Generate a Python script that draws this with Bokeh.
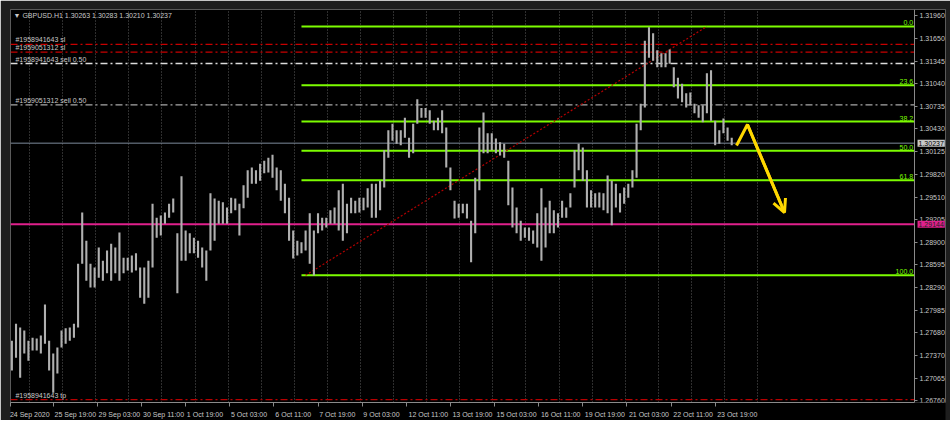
from bokeh.plotting import figure
from bokeh.models import Range1d, FixedTicker, PrintfTickFormatter, Label, Arrow, OpenHead
from bokeh.embed import file_html
from bokeh.resources import INLINE

symbol_header = "\u25bc GBPUSD.H1  1.30263 1.30283 1.30210 1.30237"

# High / low of every third H1 bar (GBPUSD)
bar_high = [1.2757, 1.2780, 1.2775, 1.2771, 1.2757, 1.2761, 1.2760, 1.2764, 1.2806, 1.2757,
            1.2740, 1.2748, 1.2771, 1.2774, 1.2775, 1.2780, 1.2861, 1.2930, 1.2892, 1.2861,
            1.2856, 1.2883, 1.2865, 1.2879, 1.2888, 1.2883, 1.2903, 1.2869, 1.2869, 1.2872,
            1.2875, 1.2856, 1.2856, 1.2865, 1.2942, 1.2923, 1.2926, 1.2930, 1.2942, 1.2949,
            1.2902, 1.2979, 1.2906, 1.2902, 1.2896, 1.2892, 1.2883, 1.2879, 1.2956, 1.2949,
            1.2946, 1.2944, 1.2937, 1.2950, 1.2949, 1.2942, 1.2967, 1.2987, 1.2991, 1.2987,
            1.2996, 1.3000, 1.3004, 1.3008, 1.2991, 1.2987, 1.2969, 1.2950, 1.2906, 1.2892,
            1.2890, 1.2906, 1.2929, 1.2906, 1.2929, 1.2923, 1.2923, 1.2933, 1.2937, 1.2960,
            1.2969, 1.2942, 1.2950, 1.2946, 1.2950, 1.2950, 1.2963, 1.2969, 1.2969, 1.2973,
            1.3014, 1.3041, 1.3050, 1.3041, 1.3041, 1.3058, 1.3031, 1.3050, 1.3083, 1.3071,
            1.3071, 1.3068, 1.3054, 1.3058, 1.3068, 1.3045, 1.2991, 1.2946, 1.2942, 1.2942,
            1.2942, 1.2919, 1.2977, 1.3045, 1.3065, 1.3037, 1.3037, 1.3030, 1.3025, 1.3023,
            1.3000, 1.2964, 1.2937, 1.2919, 1.2910, 1.2910, 1.2906, 1.2929, 1.2963, 1.2937,
            1.2946, 1.2933, 1.2929, 1.2946, 1.2937, 1.2956, 1.3014, 1.3023, 1.3018, 1.2987,
            1.2960, 1.2956, 1.2957, 1.2956, 1.2980, 1.2973, 1.2969, 1.2956, 1.2964, 1.2969,
            1.2987, 1.3050, 1.3077, 1.3162, 1.3180, 1.3172, 1.3149, 1.3145, 1.3145, 1.3150,
            1.3126, 1.3112, 1.3104, 1.3091, 1.3092, 1.3077, 1.3075, 1.3075, 1.3118, 1.3122,
            1.3054, 1.3041, 1.3057, 1.3045, 1.3031]
bar_low = [1.2717, 1.2734, 1.2707, 1.2740, 1.2730, 1.2744, 1.2744, 1.2740, 1.2753, 1.2717,
           1.2687, 1.2713, 1.2748, 1.2753, 1.2757, 1.2761, 1.2775, 1.2861, 1.2838, 1.2829,
           1.2829, 1.2842, 1.2838, 1.2848, 1.2838, 1.2848, 1.2838, 1.2848, 1.2852, 1.2849,
           1.2852, 1.2815, 1.2807, 1.2815, 1.2856, 1.2896, 1.2899, 1.2915, 1.2923, 1.2930,
           1.2821, 1.2865, 1.2865, 1.2875, 1.2875, 1.2869, 1.2856, 1.2838, 1.2879, 1.2892,
           1.2915, 1.2915, 1.2915, 1.2929, 1.2933, 1.2899, 1.2936, 1.2950, 1.2969, 1.2969,
           1.2973, 1.2983, 1.2984, 1.2977, 1.2960, 1.2946, 1.2929, 1.2892, 1.2868, 1.2872,
           1.2875, 1.2879, 1.2861, 1.2845, 1.2902, 1.2906, 1.2910, 1.2915, 1.2915, 1.2906,
           1.2892, 1.2902, 1.2929, 1.2929, 1.2930, 1.2933, 1.2937, 1.2923, 1.2923, 1.2933,
           1.2964, 1.3004, 1.3027, 1.3023, 1.3021, 1.3031, 1.3004, 1.3010, 1.3050, 1.3058,
           1.3058, 1.3050, 1.3041, 1.3041, 1.3037, 1.2991, 1.2960, 1.2922, 1.2923, 1.2929,
           1.2922, 1.2863, 1.2902, 1.2960, 1.3010, 1.3010, 1.3014, 1.3010, 1.3007, 1.3004,
           1.2940, 1.2910, 1.2902, 1.2892, 1.2896, 1.2892, 1.2888, 1.2883, 1.2865, 1.2883,
           1.2902, 1.2902, 1.2910, 1.2923, 1.2923, 1.2937, 1.2964, 1.2987, 1.2973, 1.2937,
           1.2937, 1.2937, 1.2937, 1.2933, 1.2929, 1.2913, 1.2937, 1.2930, 1.2942, 1.2950,
           1.2964, 1.2977, 1.3041, 1.3072, 1.3139, 1.3135, 1.3126, 1.3126, 1.3126, 1.3131,
           1.3099, 1.3084, 1.3079, 1.3072, 1.3075, 1.3064, 1.3058, 1.3052, 1.3064, 1.3054,
           1.3021, 1.3023, 1.3037, 1.3027, 1.3021]
BAR_STEP = 3
bar_index = [1 + BAR_STEP * i for i in range(len(bar_high))]

price_ticks = [1.31960, 1.31650, 1.31345, 1.31040, 1.30735, 1.30430, 1.30125, 1.29820, 1.29510,
               1.29205, 1.28900, 1.28595, 1.28290, 1.27985, 1.27680, 1.27370, 1.27065, 1.26760]

date_labels = ["24 Sep 2020", "25 Sep 19:00", "29 Sep 03:00", "30 Sep 11:00", "1 Oct 19:00",
               "5 Oct 03:00", "6 Oct 11:00", "7 Oct 19:00", "9 Oct 03:00", "12 Oct 11:00",
               "13 Oct 19:00", "15 Oct 03:00", "16 Oct 11:00", "19 Oct 19:00", "21 Oct 03:00",
               "22 Oct 11:00", "23 Oct 19:00"]
date_ticks = [0, 31, 63, 95, 127, 159, 191, 223, 255, 287, 319, 351, 383, 415, 447, 479, 511]

fib_levels = [0.0, 23.6, 38.2, 50.0, 61.8, 100.0]
fib_high = 1.31812
fib_low = 1.28454
fib_start_bar = 211
fib_anchor_bars = [214, 505]

order_names = ["#1958941643 sl", "#1959051312 sl", "#1958941643 sell 0.50",
               "#1959051312 sell 0.50", "#1958941643 tp"]
order_prices = [1.31569, 1.31465, 1.31312, 1.30755, 1.26777]
order_colors = ["#c80000", "#c80000", "#dcdcdc", "#a8a8a8", "#b80000"]

bid_price = 1.30237
level_price = 1.29144

arrow_bars = [526.5, 534.4, 561.3]
arrow_prices = [1.30206, 1.30489, 1.29301]

FONT = "Liberation Sans"
FS = "7px"
CHART_W = 904           # width of the price area, px
FRAME_W, FRAME_H = 935, 393
PX_PER_BAR = 1.379
axis_x = CHART_W / PX_PER_BAR
x_end = FRAME_W / PX_PER_BAR

p = figure(frame_width=FRAME_W, frame_height=FRAME_H, output_backend="svg", toolbar_location=None,
           x_range=Range1d(0, x_end), y_range=Range1d(1.26737, 1.32041), y_axis_location="right",
           min_border_left=10, min_border_top=9, min_border_right=5, min_border_bottom=14,
           background_fill_color="black", border_fill_color="#1e1e1e",
           outline_line_color="#5a5a5a", outline_line_width=1)

p.ygrid.visible = False
p.xgrid.ticker = FixedTicker(ticks=[13.8 + 24 * i for i in range(23)])
p.xgrid.grid_line_color = "#5c5c5c"
p.xgrid.grid_line_dash = "1 2"

xa = p.xaxis[0]
centers = [t + round(len(l) * 1.3) for t, l in zip(date_ticks, date_labels)]
xa.ticker = FixedTicker(ticks=centers, minor_ticks=date_ticks)
xa.major_label_overrides = {c: l for c, l in zip(centers, date_labels)}
xa.bounds = (0, axis_x)
xa.major_tick_out = 0
xa.major_tick_in = 0
xa.minor_tick_out = 4
xa.minor_tick_in = 0
xa.minor_tick_line_color = "#8a8a8a"
xa.major_label_standoff = 4
xa.axis_line_color = "#8a8a8a"
xa.major_label_text_color = "#c8c8c8"
xa.major_label_text_font = FONT
xa.major_label_text_font_size = FS

ya = p.yaxis[0]
ya.fixed_location = axis_x
ya.ticker = FixedTicker(ticks=price_ticks)
ya.formatter = PrintfTickFormatter(format="%.5f")
ya.major_tick_out = 3
ya.major_tick_in = 0
ya.minor_tick_out = 0
ya.minor_tick_in = 0
ya.major_tick_line_color = "#8a8a8a"
ya.axis_line_color = "#8a8a8a"
ya.major_label_standoff = 2
ya.major_label_text_color = "#c8c8c8"
ya.major_label_text_font = FONT
ya.major_label_text_font_size = FS

try:
    xa.background_fill_color = "black"
except Exception:
    pass

n_ord = len(order_prices)
# trade lines
p.segment(x0=[0] * n_ord, x1=[axis_x] * n_ord, y0=order_prices, y1=order_prices,
          line_color=order_colors, line_width=1.3, line_dash="7 3 2 3")
for name, pr in zip(order_names, order_prices):
    p.add_layout(Label(x=3.6, y=pr, text=name, y_offset=1, text_baseline="bottom",
                       text_color="#c8c8c8", text_font=FONT, text_font_size=FS))

# bid & level lines
p.segment(x0=[0], x1=[axis_x], y0=[bid_price], y1=[bid_price], line_color="#7d8a9c", line_width=1)
p.segment(x0=[0], x1=[axis_x], y0=[level_price], y1=[level_price], line_color="#e0208c",
          line_width=2)

# fibonacci
fib_prices = [fib_high - (fib_high - fib_low) * lv / 100.0 for lv in fib_levels]
p.segment(x0=[fib_start_bar] * len(fib_prices), x1=[axis_x] * len(fib_prices),
          y0=fib_prices, y1=fib_prices, line_color="#7cfc00", line_width=2)
for lv, pr in zip(fib_levels, fib_prices):
    p.add_layout(Label(x=axis_x - 1, y=pr, text=f"{lv:.1f}", text_align="right",
                       text_baseline="bottom", y_offset=1, text_color="#7cfc00",
                       text_font=FONT, text_font_size=FS))
p.line(x=fib_anchor_bars, y=[fib_low, fib_high], line_color="#b40000", line_width=1.2,
       line_dash="2 2")

# price bars
p.segment(x0=bar_index, y0=bar_low, x1=bar_index, y1=bar_high, line_color="#b0b0b0",
          line_width=2.1)

# drawn arrow
p.line(x=arrow_bars, y=arrow_prices, line_color="#ffd800", line_width=3)
p.add_layout(Arrow(end=OpenHead(size=13, line_color="#ffd800", line_width=3),
                   x_start=arrow_bars[1], y_start=arrow_prices[1],
                   x_end=arrow_bars[2], y_end=arrow_prices[2],
                   line_color="#ffd800", line_width=3))

# header
p.add_layout(Label(x=2.2, y=price_ticks[0], text=symbol_header, text_baseline="middle",
                   text_color="#c8c8c8", text_font=FONT, text_font_size=FS))

# price boxes on the axis, drawn above the axis labels
for pr, bg, fg in [(bid_price, "#c8c8c8", "black"), (level_price, "#e0208c", "#222222")]:
    lbl = Label(x=axis_x + 2.2, y=pr, text=f"{pr:.5f}", text_baseline="middle",
                text_color=fg, background_fill_color=bg, text_font=FONT,
                text_font_size=FS, level="overlay")
    try:
        lbl.padding = 1
    except Exception:
        pass
    p.add_layout(lbl)

open("out.html", "w").write(file_html(p, INLINE))
